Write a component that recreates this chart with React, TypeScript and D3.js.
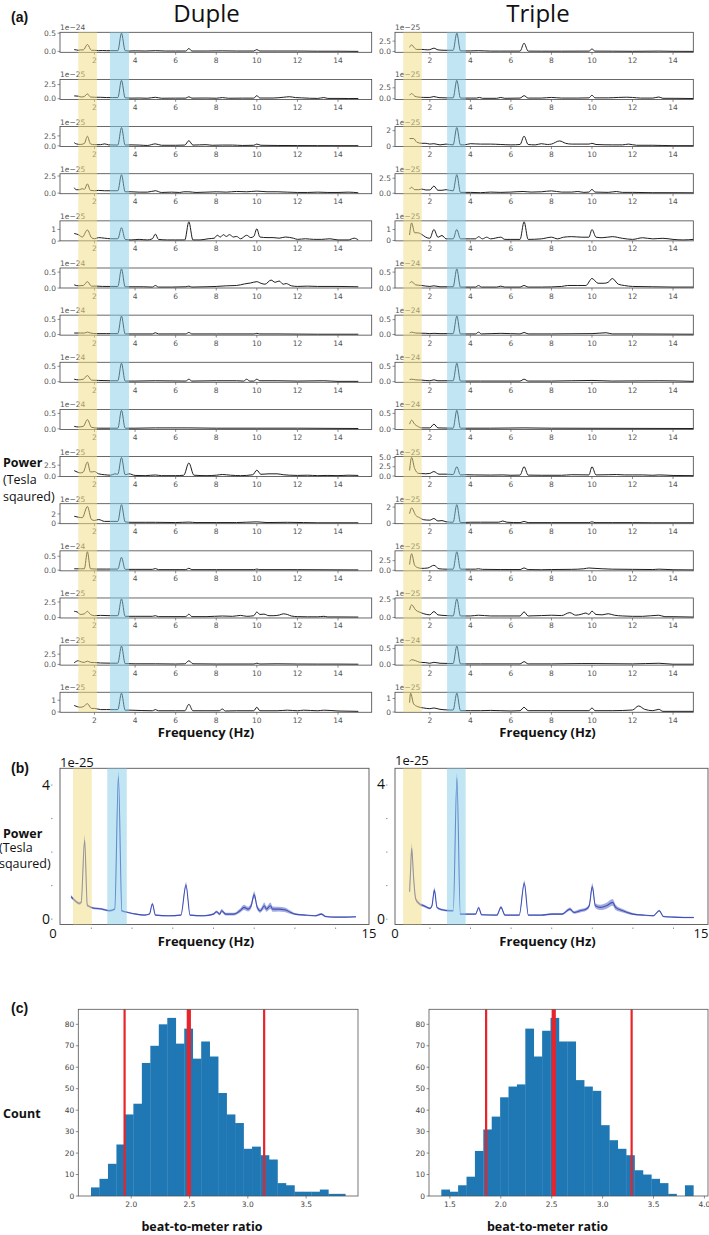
import React from "react";
import * as d3 from "d3";

// ---------- (a) individual spectra : [freq, value, freq, value, ...] in units of 10^exp ----------
const freqTicksA = [2, 4, 6, 8, 10, 12, 14];

const dupleExp = [-24, -25, -25, -25, -25, -24, -24, -24, -24, -25, -25, -24, -25, -25, -25];
const tripleExp = [-25, -25, -25, -25, -25, -24, -24, -24, -24, -25, -25, -25, -25, -24, -25];
const dupleYTicks = [[0, 0.5], [0, 2.5], [0, 2.5], [0, 2.5], [0, 1], [0, 0.5], [0, 0.5], [0, 0.5], [0, 0.5], [0, 2.5], [0, 2], [0, 0.5], [0, 2.5], [0, 2.5], [0, 1]];
const tripleYTicks = [[0, 2.5], [0, 2.5], [0, 2], [0, 2.5], [0, 1], [0, 0.5], [0, 0.5], [0, 0.5], [0, 0.5], [0, 2.5, 5], [0, 2], [0, 2.5], [0, 2.5], [0, 0.5], [0, 1]];

const d01 = [1.0,0.05, 1.1,0.04, 1.2,0.03, 1.3,0.04, 1.45,0.04, 1.65,0.19, 1.85,0.03, 2.0,0.03, 2.2,0.02, 2.4,0.025, 2.6,0.02, 2.8,0.02, 3.15,0.02, 3.33,0.5, 3.51,0.02, 3.7,0.01, 4.0,0.015, 4.5,0.01, 5.0,0.02, 5.5,0.01, 6.0,0.01, 6.5,0.01, 6.65,0.08, 6.8,0.01, 7.5,0.01, 8.3,0.015, 9.0,0.01, 9.85,0.01, 10.0,0.05, 10.15,0.01, 11,0.01, 12,0.01, 13,0.005, 14,0.005, 15,0.0];
const d02 = [1.0,0.5, 1.2,0.45, 1.35,0.3, 1.5,0.4, 1.65,0.85, 1.8,0.3, 2.0,0.25, 2.3,0.25, 2.6,0.2, 2.9,0.2, 3.15,0.2, 3.33,3.25, 3.51,0.15, 3.8,0.1, 4.2,0.12, 4.6,0.08, 5.0,0.25, 5.3,0.08, 6.0,0.1, 6.5,0.1, 6.65,0.35, 6.8,0.1, 7.5,0.12, 8.0,0.08, 8.3,0.2, 8.6,0.08, 9.3,0.1, 9.85,0.1, 10.0,0.55, 10.15,0.12, 10.8,0.12, 11.3,0.25, 11.6,0.35, 11.9,0.2, 12.2,0.15, 12.6,0.08, 13.0,0.05, 13.3,0.2, 13.5,0.05, 14.0,0.05, 14.5,0.03, 15,0.03];
const d03 = [1.0,0.8, 1.1,0.5, 1.3,0.35, 1.5,0.6, 1.65,2.4, 1.8,0.5, 2.0,0.3, 2.3,0.3, 2.5,0.5, 2.7,0.25, 3.15,0.2, 3.33,4.6, 3.51,0.2, 3.8,0.25, 4.2,0.2, 4.6,0.1, 5.0,0.5, 5.3,0.15, 6.0,0.15, 6.45,0.2, 6.65,1.3, 6.85,0.2, 7.5,0.3, 7.8,0.15, 8.3,0.2, 8.8,0.2, 9.3,0.1, 9.85,0.15, 10.0,0.45, 10.2,0.15, 11,0.1, 12,0.08, 13,0.06, 14,0.05, 15,0.05];
const d04 = [1.0,0.8, 1.1,0.5, 1.25,0.5, 1.4,0.65, 1.5,0.55, 1.65,1.35, 1.8,0.4, 2.0,0.35, 2.2,0.4, 2.5,0.35, 2.8,0.35, 3.15,0.35, 3.33,2.7, 3.51,0.2, 3.8,0.2, 4.2,0.15, 4.6,0.15, 5.0,0.35, 5.3,0.1, 5.8,0.15, 6.2,0.1, 6.4,0.2, 6.65,0.2, 7.0,0.1, 7.5,0.15, 8.0,0.2, 8.5,0.15, 9.0,0.25, 9.5,0.2, 10,0.3, 10.5,0.2, 11,0.2, 11.5,0.15, 12,0.1, 12.5,0.1, 13,0.15, 13.5,0.1, 14,0.1, 14.5,0.15, 15,0.05];
const d05 = [1.0,0.65, 1.2,0.55, 1.4,0.35, 1.65,0.95, 1.85,0.3, 2.0,0.2, 2.2,0.3, 2.5,0.25, 2.8,0.2, 3.15,0.2, 3.33,1.15, 3.51,0.15, 3.8,0.1, 4.2,0.15, 4.6,0.1, 4.85,0.2, 5.0,0.6, 5.15,0.15, 5.6,0.1, 6.0,0.1, 6.45,0.1, 6.65,1.65, 6.85,0.1, 7.2,0.1, 7.6,0.2, 7.9,0.25, 8.05,0.5, 8.2,0.35, 8.35,0.55, 8.5,0.4, 8.65,0.55, 8.85,0.35, 9.0,0.4, 9.2,0.2, 9.5,0.5, 9.7,0.3, 9.85,0.4, 10.0,1.05, 10.15,0.35, 10.5,0.3, 10.8,0.3, 11.1,0.25, 11.4,0.35, 11.8,0.25, 12.0,0.15, 12.4,0.2, 12.8,0.15, 13.2,0.15, 13.6,0.2, 14.0,0.1, 14.5,0.1, 14.8,0.25, 15,0.1];
const d06 = [1.0,0.1, 1.2,0.07, 1.45,0.08, 1.65,0.2, 1.85,0.06, 2.1,0.06, 2.4,0.05, 2.8,0.05, 3.15,0.05, 3.33,0.6, 3.51,0.04, 3.8,0.04, 4.4,0.04, 4.85,0.03, 5.0,0.08, 5.15,0.03, 5.8,0.03, 6.5,0.04, 6.65,0.06, 6.8,0.03, 7.5,0.04, 8.0,0.05, 8.5,0.07, 9.0,0.08, 9.4,0.13, 9.7,0.16, 10.0,0.2, 10.2,0.15, 10.4,0.12, 10.7,0.25, 10.9,0.18, 11.1,0.22, 11.3,0.12, 11.45,0.14, 11.7,0.07, 12.0,0.05, 12.5,0.06, 13,0.05, 14,0.05, 15,0.04];
const d07 = [1.0,0.05, 1.3,0.05, 1.5,0.05, 1.65,0.08, 1.8,0.05, 2.1,0.03, 2.6,0.03, 3.15,0.03, 3.33,0.61, 3.51,0.02, 4.0,0.02, 4.85,0.02, 5.0,0.06, 5.15,0.02, 6.5,0.02, 6.65,0.07, 6.8,0.02, 8,0.02, 9.85,0.02, 10.0,0.04, 10.15,0.02, 11,0.02, 13,0.01, 15,0.01];
const d08 = [1.0,0.08, 1.2,0.06, 1.45,0.08, 1.65,0.2, 1.85,0.05, 2.2,0.04, 2.8,0.03, 3.15,0.03, 3.33,0.6, 3.51,0.02, 4.0,0.02, 5.0,0.03, 6.5,0.02, 6.65,0.08, 6.8,0.02, 8.0,0.03, 9.0,0.03, 9.35,0.02, 9.5,0.08, 9.65,0.02, 9.85,0.02, 10.0,0.08, 10.15,0.03, 11,0.03, 12,0.02, 13.3,0.03, 14,0.01, 15,0.01];
const d09 = [1.0,0.08, 1.2,0.06, 1.45,0.08, 1.65,0.3, 1.85,0.05, 2.2,0.02, 2.8,0.02, 3.15,0.02, 3.33,0.6, 3.51,0.02, 4.0,0.02, 5.0,0.03, 6.65,0.03, 8,0.02, 10,0.02, 12,0.02, 15,0.01];
const d10 = [1.0,1.3, 1.15,1.0, 1.3,0.8, 1.45,1.0, 1.65,3.2, 1.8,1.0, 2.0,1.1, 2.2,0.6, 2.5,0.4, 2.8,0.3, 3.0,0.6, 3.15,0.5, 3.33,4.2, 3.51,0.4, 3.7,0.6, 4.0,0.25, 4.5,0.2, 5.0,0.35, 5.3,0.2, 6.0,0.2, 6.4,0.3, 6.65,3.0, 6.9,0.3, 7.5,0.2, 8.0,0.3, 8.3,0.45, 8.7,0.3, 9.2,0.2, 9.8,0.4, 10.0,1.4, 10.2,0.5, 10.6,0.6, 11.0,0.6, 11.3,0.4, 11.6,0.3, 12.0,0.25, 12.5,0.3, 13,0.2, 13.5,0.25, 14,0.2, 14.5,0.3, 15,0.25];
const d11 = [1.0,1.5, 1.2,1.3, 1.4,1.2, 1.65,3.6, 1.85,0.8, 2.0,0.6, 2.2,0.8, 2.5,0.4, 2.8,0.4, 3.15,0.4, 3.33,4.0, 3.51,0.3, 3.8,0.2, 4.5,0.2, 5.0,0.2, 6.0,0.15, 6.65,0.25, 7.0,0.15, 8.0,0.15, 9.0,0.15, 10,0.3, 10.5,0.15, 11.5,0.2, 12.3,0.15, 13,0.1, 14,0.1, 15,0.1];
const d12 = [1.0,0.05, 1.3,0.05, 1.5,0.05, 1.65,0.66, 1.8,0.05, 2.1,0.04, 2.6,0.04, 3.15,0.04, 3.33,0.46, 3.51,0.03, 4.0,0.03, 4.85,0.03, 5.0,0.06, 5.15,0.02, 6.5,0.02, 6.65,0.07, 6.8,0.02, 8,0.02, 9.85,0.02, 10.0,0.04, 10.15,0.02, 12,0.02, 15,0.01];
const d13 = [1.0,1.0, 1.15,0.9, 1.3,0.5, 1.5,0.6, 1.65,1.0, 1.8,0.5, 2.0,0.3, 2.3,0.35, 2.8,0.3, 3.15,0.3, 3.33,3.0, 3.51,0.2, 4.0,0.2, 4.85,0.2, 5.0,0.3, 5.15,0.15, 6.5,0.15, 6.65,0.55, 6.8,0.15, 7.5,0.15, 8.3,0.25, 8.8,0.2, 9.2,0.35, 9.5,0.2, 9.85,0.3, 10.0,0.9, 10.15,0.5, 10.35,0.55, 10.6,0.3, 10.8,0.3, 11.1,0.4, 11.3,0.6, 11.5,0.5, 11.7,0.25, 12.0,0.15, 12.5,0.12, 13,0.12, 13.3,0.2, 13.5,0.1, 14,0.1, 15,0.08];
const d14 = [1.0,0.4, 1.2,0.9, 1.35,0.6, 1.5,0.5, 1.65,0.8, 1.8,0.5, 2.0,0.45, 2.3,0.35, 2.8,0.3, 3.15,0.3, 3.33,4.5, 3.51,0.2, 4.0,0.15, 5.0,0.15, 6.0,0.1, 6.45,0.15, 6.65,0.9, 6.85,0.15, 8,0.1, 9.85,0.1, 10.0,0.3, 10.15,0.1, 11,0.15, 12,0.1, 13,0.08, 14,0.08, 15,0.05];
const d15 = [1.0,0.55, 1.15,0.45, 1.3,0.4, 1.45,0.45, 1.65,0.7, 1.85,0.3, 2.0,0.3, 2.3,0.2, 2.6,0.2, 3.0,0.2, 3.15,0.2, 3.33,1.6, 3.51,0.15, 3.8,0.15, 4.3,0.12, 4.85,0.1, 5.0,0.2, 5.15,0.1, 6.0,0.1, 6.45,0.1, 6.65,0.65, 6.85,0.1, 7.5,0.1, 8.15,0.1, 8.3,0.25, 8.45,0.08, 9.0,0.1, 9.85,0.1, 10.0,0.4, 10.15,0.1, 11,0.1, 11.5,0.15, 12,0.1, 12.3,0.15, 13,0.1, 13.3,0.15, 14,0.08, 15,0.05];

const t01 = [1.0,1.0, 1.1,1.6, 1.25,0.8, 1.35,0.5, 1.6,0.5, 1.9,0.4, 2.0,0.45, 2.2,0.8, 2.4,0.4, 2.7,0.3, 3.15,0.3, 3.33,4.4, 3.51,0.15, 4.0,0.15, 4.4,0.2, 5.0,0.1, 5.5,0.1, 6.0,0.1, 6.45,0.1, 6.65,2.0, 6.85,0.1, 7.5,0.08, 8.5,0.08, 9.85,0.1, 10.0,0.6, 10.15,0.1, 11,0.08, 12,0.05, 13.3,0.1, 14,0.05, 15,0.03];
const t02 = [1.0,0.8, 1.1,1.2, 1.25,0.6, 1.4,0.4, 1.7,0.3, 2.0,0.3, 2.2,0.5, 2.45,0.25, 2.8,0.2, 3.15,0.2, 3.33,4.2, 3.51,0.15, 4.0,0.15, 4.3,0.15, 4.45,0.3, 4.6,0.1, 5.3,0.1, 5.5,0.3, 5.7,0.1, 6.45,0.15, 6.65,0.7, 6.85,0.15, 7.5,0.15, 8.0,0.3, 8.5,0.15, 9.3,0.15, 9.85,0.2, 10.0,0.8, 10.15,0.2, 10.8,0.2, 11.3,0.3, 11.7,0.35, 12.0,0.3, 12.4,0.15, 13.0,0.15, 13.3,0.4, 13.5,0.1, 14.0,0.1, 15,0.05];
const t03 = [1.0,1.0, 1.2,1.0, 1.35,0.55, 1.6,0.4, 1.8,0.4, 2.0,0.3, 2.2,0.35, 2.5,0.2, 2.8,0.3, 3.15,0.2, 3.33,2.4, 3.51,0.2, 3.7,0.2, 4.0,0.35, 4.5,0.3, 5.0,0.3, 5.5,0.25, 6.0,0.2, 6.45,0.25, 6.65,1.3, 6.85,0.25, 7.2,0.2, 7.5,0.35, 7.8,0.25, 8.0,0.3, 8.4,0.7, 8.7,0.4, 9.0,0.3, 9.5,0.3, 9.85,0.3, 10.0,0.4, 10.2,0.25, 11,0.2, 11.5,0.2, 11.8,0.3, 12.2,0.15, 13,0.15, 14,0.1, 15,0.1];
const t04 = [1.0,0.7, 1.1,1.0, 1.25,0.6, 1.45,0.6, 1.6,0.7, 1.8,0.55, 2.0,0.55, 2.2,1.2, 2.4,0.5, 2.6,0.5, 2.8,0.6, 3.15,0.4, 3.33,3.1, 3.51,0.15, 4.0,0.15, 4.5,0.1, 5.0,0.2, 5.5,0.15, 6.0,0.2, 6.6,0.3, 7.0,0.2, 7.5,0.25, 8.0,0.4, 8.5,0.2, 9.0,0.2, 9.3,0.3, 9.6,0.15, 9.85,0.2, 10.0,0.65, 10.15,0.2, 10.8,0.15, 11.2,0.3, 11.5,0.15, 12.0,0.15, 13,0.1, 14,0.1, 15,0.08];
const t05 = [1.0,0.5, 1.1,1.6, 1.25,0.7, 1.4,0.7, 1.6,0.55, 1.8,0.3, 2.0,0.2, 2.2,1.0, 2.4,0.3, 2.6,0.45, 2.8,0.15, 3.15,0.15, 3.33,1.0, 3.51,0.15, 4.0,0.15, 4.25,0.15, 4.4,0.35, 4.6,0.15, 4.8,0.3, 5.0,0.15, 5.5,0.3, 5.7,0.1, 6.0,0.1, 6.45,0.1, 6.65,1.7, 6.85,0.1, 7.5,0.15, 8.0,0.3, 8.3,0.15, 8.6,0.3, 9.0,0.35, 9.5,0.3, 9.85,0.3, 10.0,1.0, 10.2,0.3, 10.5,0.25, 11.0,0.35, 11.5,0.2, 12.0,0.1, 12.5,0.25, 13.0,0.15, 13.5,0.2, 14.0,0.1, 14.5,0.05, 15,0.1];
const t06 = [1.0,0.15, 1.1,0.2, 1.3,0.1, 1.6,0.08, 2.0,0.05, 2.2,0.07, 2.5,0.04, 3.15,0.04, 3.33,0.6, 3.51,0.03, 4.0,0.03, 4.25,0.03, 4.4,0.08, 4.55,0.03, 5.3,0.03, 5.5,0.06, 5.7,0.03, 6.45,0.03, 6.65,0.08, 6.85,0.03, 7.5,0.03, 8.5,0.05, 8.8,0.08, 9.3,0.08, 9.7,0.08, 10.0,0.3, 10.3,0.15, 10.6,0.15, 10.8,0.18, 11.0,0.3, 11.3,0.12, 11.6,0.08, 12.0,0.05, 13,0.04, 14,0.03, 15,0.03];
const t07 = [1.0,0.05, 1.1,0.08, 1.3,0.05, 1.8,0.04, 2.0,0.03, 2.2,0.04, 2.5,0.03, 3.15,0.03, 3.33,0.62, 3.51,0.02, 4.25,0.02, 4.4,0.08, 4.55,0.02, 5.5,0.04, 6.45,0.02, 6.65,0.07, 6.85,0.02, 8,0.02, 10,0.03, 10.7,0.06, 11,0.02, 12,0.02, 15,0.01];
const t08 = [1.0,0.07, 1.1,0.08, 1.3,0.06, 1.6,0.05, 2.0,0.03, 2.2,0.06, 2.4,0.03, 3.15,0.03, 3.33,0.6, 3.51,0.02, 4.5,0.02, 6.45,0.02, 6.65,0.08, 6.85,0.02, 8,0.02, 10,0.04, 11,0.02, 13.3,0.03, 15,0.01];
const t09 = [1.0,0.15, 1.1,0.28, 1.25,0.15, 1.4,0.08, 1.6,0.03, 2.0,0.03, 2.2,0.15, 2.4,0.03, 3.15,0.02, 3.33,0.6, 3.51,0.02, 5,0.02, 6.65,0.03, 8,0.02, 15,0.01];
const t10 = [1.0,1.5, 1.1,5.0, 1.25,2.0, 1.45,0.7, 1.8,0.6, 2.0,0.7, 2.2,1.2, 2.45,0.5, 2.8,0.5, 3.15,0.4, 3.33,2.5, 3.51,0.3, 3.8,0.35, 4.2,0.3, 5.0,0.25, 5.6,0.3, 6.0,0.2, 6.45,0.25, 6.65,2.5, 6.85,0.25, 7.5,0.2, 8.5,0.2, 9.0,0.35, 9.85,0.3, 10.0,2.5, 10.2,0.3, 10.8,0.35, 11.2,0.4, 11.6,0.3, 12.0,0.3, 12.5,0.3, 13,0.2, 13.3,0.3, 14,0.15, 15,0.1];
const t11 = [1.0,1.2, 1.1,1.9, 1.3,1.0, 1.5,0.7, 1.7,0.45, 2.0,0.4, 2.2,0.6, 2.4,0.3, 2.6,0.35, 2.8,0.2, 3.15,0.15, 3.33,2.3, 3.51,0.1, 4.0,0.15, 4.5,0.15, 5.4,0.15, 5.6,0.3, 5.8,0.15, 6.45,0.1, 6.65,0.25, 6.85,0.1, 8,0.1, 9.85,0.1, 10.0,0.2, 10.15,0.1, 11,0.1, 12,0.1, 13,0.08, 14,0.08, 15,0.08];
const t12 = [1.0,1.5, 1.1,4.3, 1.25,1.3, 1.4,0.7, 1.6,0.5, 1.9,0.6, 2.2,1.3, 2.45,0.4, 2.8,0.3, 3.15,0.3, 3.33,4.8, 3.51,0.3, 4.0,0.3, 4.25,0.3, 4.4,0.4, 4.6,0.25, 5.5,0.2, 6.45,0.2, 6.65,0.6, 6.85,0.2, 7.5,0.15, 8.0,0.2, 9.0,0.25, 9.6,0.4, 9.85,0.6, 10.0,0.55, 10.5,0.4, 11,0.3, 12,0.25, 13,0.2, 13.3,0.3, 14,0.15, 15,0.1];
const t13 = [1.0,1.0, 1.1,1.7, 1.3,1.0, 1.5,0.7, 1.7,0.5, 2.0,0.35, 2.2,0.8, 2.4,0.35, 2.8,0.25, 3.15,0.2, 3.33,2.5, 3.51,0.2, 4.0,0.2, 4.4,0.3, 5.0,0.2, 5.5,0.2, 6.45,0.2, 6.65,0.75, 6.85,0.2, 7.5,0.25, 8.0,0.3, 8.5,0.25, 8.9,0.65, 9.2,0.3, 9.5,0.45, 9.7,0.6, 9.85,0.4, 10.0,0.85, 10.2,0.4, 10.5,0.35, 10.8,0.5, 11.1,0.3, 11.5,0.2, 12,0.15, 12.5,0.15, 13.3,0.3, 13.6,0.1, 14,0.1, 15,0.05];
const t14 = [1.0,0.1, 1.1,0.15, 1.3,0.12, 1.5,0.07, 1.8,0.06, 2.0,0.04, 2.2,0.07, 2.5,0.04, 3.15,0.03, 3.33,0.58, 3.51,0.02, 4.5,0.02, 6.45,0.02, 6.65,0.09, 6.85,0.02, 8,0.02, 9.5,0.03, 10,0.03, 12,0.02, 13.3,0.04, 14,0.01, 15,0.01];
const t15 = [1.0,0.7, 1.05,1.4, 1.2,0.6, 1.4,0.4, 1.7,0.3, 2.0,0.25, 2.2,0.3, 2.5,0.2, 3.0,0.15, 3.15,0.15, 3.33,1.4, 3.51,0.1, 4.0,0.1, 4.5,0.1, 5.0,0.12, 6.0,0.08, 6.45,0.1, 6.65,0.35, 6.85,0.1, 8,0.1, 9.85,0.1, 10.0,0.3, 10.15,0.1, 11,0.1, 12.0,0.15, 12.3,0.45, 12.6,0.2, 13.0,0.1, 13.3,0.2, 13.5,0.05, 14,0.05, 15,0.05];

const dupleSpectra = [d01, d02, d03, d04, d05, d06, d07, d08, d09, d10, d11, d12, d13, d14, d15];
const tripleSpectra = [t01, t02, t03, t04, t05, t06, t07, t08, t09, t10, t11, t12, t13, t14, t15];

// bands (Hz)
const dupleBands = [[1.2, 2.12], [2.76, 3.7]];
const tripleBands = [[0.69, 1.6], [2.85, 3.77]];
const dupleBandsB = [[1.1, 2.02], [2.78, 3.74]];
const tripleBandsB = [[0.68, 1.59], [2.84, 3.76]];

// ---------- (b) grand-average spectra : [freq, mean, sem, ...] in 1e-25 ----------
const dupleMean = [1.0,0.67,0.05, 1.2,0.55,0.04, 1.4,0.47,0.04, 1.5,0.5,0.05, 1.67,2.36,0.15, 1.8,0.42,0.04, 1.9,0.38,0.03, 2.0,0.35,0.03, 2.5,0.3,0.03, 2.9,0.25,0.03, 3.15,0.3,0.03, 3.33,4.25,0.15, 3.5,0.25,0.03, 3.8,0.2,0.02, 4.2,0.15,0.02, 4.6,0.12,0.02, 4.85,0.15,0.02, 5.0,0.45,0.05, 5.15,0.12,0.02, 5.8,0.1,0.02, 6.4,0.12,0.02, 6.65,1.02,0.08, 6.85,0.12,0.02, 7.5,0.1,0.02, 8.0,0.15,0.03, 8.15,0.22,0.04, 8.3,0.15,0.04, 8.4,0.25,0.05, 8.6,0.15,0.04, 9.0,0.15,0.04, 9.3,0.25,0.06, 9.5,0.35,0.08, 9.7,0.3,0.07, 9.85,0.4,0.08, 10.0,0.73,0.1, 10.15,0.35,0.07, 10.3,0.25,0.06, 10.5,0.4,0.1, 10.6,0.3,0.08, 10.8,0.4,0.1, 10.9,0.3,0.08, 11.2,0.3,0.07, 11.5,0.28,0.07, 11.8,0.2,0.05, 12.0,0.15,0.03, 12.5,0.12,0.02, 13.0,0.1,0.02, 13.3,0.15,0.03, 13.5,0.08,0.02, 14.0,0.06,0.02, 14.5,0.06,0.02, 15.0,0.07,0.02];
const tripleMean = [1.0,0.82,0.1, 1.05,1.5,0.12, 1.1,2.11,0.15, 1.2,1.2,0.08, 1.3,0.6,0.05, 1.5,0.45,0.04, 1.7,0.4,0.04, 2.0,0.32,0.03, 2.1,0.4,0.04, 2.22,0.87,0.08, 2.35,0.35,0.03, 2.6,0.28,0.03, 3.0,0.25,0.03, 3.15,0.25,0.03, 3.33,4.2,0.15, 3.5,0.15,0.02, 4.0,0.15,0.02, 4.25,0.15,0.02, 4.4,0.34,0.04, 4.55,0.13,0.02, 5.3,0.12,0.02, 5.5,0.35,0.04, 5.7,0.12,0.02, 6.4,0.12,0.02, 6.65,1.07,0.08, 6.85,0.12,0.02, 7.5,0.12,0.02, 8.0,0.15,0.03, 8.5,0.15,0.03, 8.9,0.3,0.05, 9.1,0.2,0.04, 9.4,0.25,0.05, 9.7,0.3,0.05, 9.85,0.4,0.06, 10.0,0.97,0.1, 10.15,0.4,0.07, 10.4,0.35,0.08, 10.7,0.4,0.09, 11.0,0.5,0.1, 11.15,0.35,0.08, 11.5,0.25,0.05, 12.0,0.15,0.03, 12.5,0.12,0.02, 13.0,0.1,0.02, 13.3,0.25,0.03, 13.5,0.08,0.02, 14.0,0.06,0.02, 14.5,0.05,0.02, 15.0,0.05,0.02];
const bYTicks = [0, 1, 2, 3, 4];
const bXTicks = [2, 4, 6, 8, 10, 12, 14];

// ---------- (c) histograms ----------
const dupleCounts = [4, 8, 15, 24, 38, 43, 62, 70, 80, 83, 71, 78, 64, 72, 65, 48, 38, 34, 22, 23, 19, 17, 6, 5, 2, 2, 2, 3, 1, 1];
const dupleBinStart = 1.655;
const dupleBinWidth = 0.0727;
const tripleCounts = [3, 2, 5, 9, 21, 31, 37, 46, 51, 52, 78, 65, 77, 83, 72, 72, 54, 51, 49, 33, 26, 22, 19, 12, 10, 8, 6, 1, 0, 5];
const tripleBinStart = 1.416;
const tripleBinWidth = 0.0825;
const dupleRatioLines = [1.943, 2.494, 3.14];
const tripleRatioLines = [1.856, 2.52, 3.285];
const histYTicks = [0, 10, 20, 30, 40, 50, 60, 70, 80];
const dupleHistXTicks = [2.0, 2.5, 3.0, 3.5];
const tripleHistXTicks = [1.5, 2.0, 2.5, 3.0, 3.5, 4.0];

// ---------- layout ----------
const W = 709, H = 1235;
const A_TOP0 = 32.3, A_STEP = 47.14, A_H = 20;
const YELLOW = "#f0dc80", BLUE = "#86cce8";
const TICK_FONT = "'DejaVu Sans', sans-serif";
const LABEL_FONT = "'Open Sans', sans-serif";

type P = [number, number];
const pairs = (a: number[]): P[] => {
  const out: P[] = [];
  for (let i = 0; i < a.length; i += 2) out.push([a[i], a[i + 1]]);
  return out;
};
const triples = (a: number[]) => {
  const out: { f: number; v: number; s: number }[] = [];
  for (let i = 0; i < a.length; i += 3) out.push({ f: a[i], v: a[i + 1], s: a[i + 2] });
  return out;
};

function SmallPanel({ pts, exp, ticks, x0, x1, xDom, top }: any) {
  const h = A_H;
  const x = d3.scaleLinear().domain(xDom).range([x0, x1]);
  const data = pairs(pts);
  const [mn, mx] = d3.extent(data, (d) => d[1]) as [number, number];
  const r = mx - mn;
  const y = d3.scaleLinear().domain([mn - 0.05 * r, mx + 0.05 * r]).range([top + h, top]);
  const line = d3.line<P>().x((d) => x(d[0])).y((d) => y(d[1])).curve(d3.curveMonotoneX);
  const dec = ticks.some((t: number) => t % 1 !== 0);
  return (
    <g>
      <path d={line(data) || ""} fill="none" stroke="#1e1e1e" strokeWidth={1} />
      <rect x={x0} y={top} width={x1 - x0} height={h} fill="none" stroke="#444" strokeWidth={0.8} />
      {freqTicksA.map((t) => (
        <g key={t}>
          <line x1={x(t)} x2={x(t)} y1={top + h} y2={top + h + 2.5} stroke="#444" strokeWidth={0.6} />
          <text x={x(t)} y={top + h + 10.5} textAnchor="middle" fontSize={7.5} fill="#555" fontFamily={TICK_FONT}>{t}</text>
        </g>
      ))}
      {ticks.map((t: number) => (
        <g key={t}>
          <line x1={x0 - 2.5} x2={x0} y1={y(t)} y2={y(t)} stroke="#444" strokeWidth={0.6} />
          <text x={x0 - 4} y={y(t) + 2.7} textAnchor="end" fontSize={7.5} fill="#555" fontFamily={TICK_FONT}>{dec ? t.toFixed(1) : String(t)}</text>
        </g>
      ))}
      <text x={x0} y={top - 2} fontSize={7.5} fill="#555" fontFamily={TICK_FONT}>{`1e\u2212${Math.abs(exp)}`}</text>
    </g>
  );
}

function ColumnA({ spectra, exps, yticks, x0, x1, xDom, bands }: any) {
  const x = d3.scaleLinear().domain(xDom).range([x0, x1]);
  const yTop = A_TOP0;
  const yBot = A_TOP0 + 14 * A_STEP + A_H;
  return (
    <g>
      {spectra.map((s: number[], i: number) => (
        <SmallPanel key={i} pts={s} exp={exps[i]} ticks={yticks[i]} x0={x0} x1={x1} xDom={xDom} top={A_TOP0 + i * A_STEP} />
      ))}
      {bands.map((b: number[], i: number) => (
        <rect key={i} x={x(b[0])} y={yTop} width={x(b[1]) - x(b[0])} height={yBot - yTop} fill={i === 0 ? YELLOW : BLUE} opacity={0.5} />
      ))}
    </g>
  );
}

function MeanPanel({ raw, x0, x1, xDom, bands, top, bottom }: any) {
  const x = d3.scaleLinear().domain(xDom).range([x0, x1]);
  const y = d3.scaleLinear().domain([-0.16, 4.5]).range([bottom, top]);
  const data = triples(raw);
  const area = d3.area<any>().x((d) => x(d.f)).y0((d) => y(d.v - d.s)).y1((d) => y(d.v + d.s)).curve(d3.curveMonotoneX);
  const line = d3.line<any>().x((d) => x(d.f)).y((d) => y(d.v)).curve(d3.curveMonotoneX);
  return (
    <g>
      <path d={area(data) || ""} fill="#6573c9" opacity={0.6} />
      <path d={line(data) || ""} fill="none" stroke="#4050b8" strokeWidth={1.1} />
      <rect x={x0} y={top} width={x1 - x0} height={bottom - top} fill="none" stroke="#555" strokeWidth={0.9} />
      {bYTicks.map((t) => (
        <line key={t} x1={x0 - 9} x2={x0 - 7.5} y1={y(t)} y2={y(t)} stroke="#777" strokeWidth={0.8} />
      ))}
      {bXTicks.map((t) => (
        <line key={t} x1={x(t)} x2={x(t)} y1={bottom + 3} y2={bottom + 4.5} stroke="#777" strokeWidth={0.8} />
      ))}
      {bands.map((b: number[], i: number) => (
        <rect key={i} x={x(b[0])} y={top} width={x(b[1]) - x(b[0])} height={bottom - top} fill={i === 0 ? YELLOW : BLUE} opacity={0.5} />
      ))}
    </g>
  );
}

function Hist({ counts, start, width, lines, x0, x1, xDom, xticks, top, bottom }: any) {
  const x = d3.scaleLinear().domain(xDom).range([x0, x1]);
  const y = d3.scaleLinear().domain([0, 87]).range([bottom, top]);
  return (
    <g>
      {counts.map((c: number, i: number) => (
        <rect key={i} x={x(start + i * width)} y={y(c)} width={x(start + (i + 1) * width) - x(start + i * width) + 0.3} height={bottom - y(c)} fill="#1f77b4" />
      ))}
      {lines.map((v: number, i: number) => (
        <line key={i} x1={x(v)} x2={x(v)} y1={top} y2={bottom} stroke="#e8232a" strokeWidth={i === 1 ? 4.2 : 2.2} />
      ))}
      <rect x={x0} y={top} width={x1 - x0} height={bottom - top} fill="none" stroke="#555" strokeWidth={0.8} />
      {histYTicks.map((t) => (
        <g key={t}>
          <line x1={x0 - 2.5} x2={x0} y1={y(t)} y2={y(t)} stroke="#444" strokeWidth={0.6} />
          <text x={x0 - 4} y={y(t) + 2.7} textAnchor="end" fontSize={7.5} fill="#444" fontFamily={TICK_FONT}>{t}</text>
        </g>
      ))}
      {xticks.map((t: number) => (
        <g key={t}>
          <line x1={x(t)} x2={x(t)} y1={bottom} y2={bottom + 2.5} stroke="#444" strokeWidth={0.6} />
          <text x={x(t)} y={bottom + 11} textAnchor="middle" fontSize={7.5} fill="#444" fontFamily={TICK_FONT}>{t.toFixed(1)}</text>
        </g>
      ))}
    </g>
  );
}

export default function App() {
  const bold = { fontFamily: LABEL_FONT, fontWeight: 700 as const, fill: "#111" };
  const reg = { fontFamily: LABEL_FONT, fill: "#111" };
  const panelLab = { fontFamily: "'Liberation Sans', Arial, sans-serif", fontWeight: 700 as const, fontSize: 14, fill: "#111" };
  return (
    <svg width={W} height={H} style={{ position: "absolute", left: 0, top: 0, background: "#fff" }} fontFamily={TICK_FONT}>
      <rect x={0} y={0} width={W} height={H} fill="#fff" />
      {/* (a) */}
      <text x={11} y={21.5} {...panelLab}>(a)</text>
      <text x={206.5} y={21.5} textAnchor="middle" fontSize={24} {...reg}>Duple</text>
      <text x={538} y={21.5} textAnchor="middle" fontSize={24} {...reg}>Triple</text>
      <ColumnA spectra={dupleSpectra} exps={dupleExp} yticks={dupleYTicks} x0={60} x1={371.7} xDom={[0.3, 15.66]} bands={dupleBands} />
      <ColumnA spectra={tripleSpectra} exps={tripleExp} yticks={tripleYTicks} x0={395} x1={693.3} xDom={[0.28, 15.0]} bands={tripleBands} />
      <text x={3} y={466.5} fontSize={12.5} {...bold}>Power</text>
      <text x={3} y={484} fontSize={12.5} {...reg}>(Tesla</text>
      <text x={3} y={500.5} fontSize={12.5} {...reg}>sqaured)</text>
      <text x={206} y={736.5} textAnchor="middle" fontSize={13} {...bold}>Frequency (Hz)</text>
      <text x={547.5} y={736.5} textAnchor="middle" fontSize={13} {...bold}>Frequency (Hz)</text>

      {/* (b) */}
      <text x={11} y={773} {...panelLab}>(b)</text>
      <MeanPanel raw={dupleMean} x0={60} x1={369} xDom={[0.46, 15.64]} bands={dupleBandsB} top={768.3} bottom={924.5} />
      <MeanPanel raw={tripleMean} x0={395} x1={708} xDom={[0.28, 15.7]} bands={tripleBandsB} top={768.3} bottom={924.5} />
      <text x={60} y={767} fontSize={13} {...reg}>1e-25</text>
      <text x={395} y={765} fontSize={13} {...reg}>1e-25</text>
      <text x={50} y={790} textAnchor="end" fontSize={14} {...reg}>4</text>
      <text x={50} y={924} textAnchor="end" fontSize={14} {...reg}>0</text>
      <text x={385} y={788.5} textAnchor="end" fontSize={14} {...reg}>4</text>
      <text x={385} y={923.5} textAnchor="end" fontSize={14} {...reg}>0</text>
      <text x={53} y={938} textAnchor="middle" fontSize={13} {...reg}>0</text>
      <text x={369} y={938} textAnchor="middle" fontSize={13} {...reg}>15</text>
      <text x={395} y={938} textAnchor="middle" fontSize={13} {...reg}>0</text>
      <text x={701} y={938} textAnchor="middle" fontSize={13} {...reg}>15</text>
      <text x={3} y={838} fontSize={12.5} {...bold}>Power</text>
      <text x={-1} y={852} fontSize={12.5} {...reg}>(Tesla</text>
      <text x={-1} y={868} fontSize={12.5} {...reg}>sqaured)</text>
      <text x={206} y={946} textAnchor="middle" fontSize={13} {...bold}>Frequency (Hz)</text>
      <text x={547.5} y={946} textAnchor="middle" fontSize={13} {...bold}>Frequency (Hz)</text>

      {/* (c) */}
      <text x={11} y={1013} {...panelLab}>(c)</text>
      <Hist counts={dupleCounts} start={dupleBinStart} width={dupleBinWidth} lines={dupleRatioLines} x0={78.3} x1={358} xDom={[1.546, 3.945]} xticks={dupleHistXTicks} top={1009.3} bottom={1196} />
      <Hist counts={tripleCounts} start={tripleBinStart} width={tripleBinWidth} lines={tripleRatioLines} x0={429} x1={708} xDom={[1.295, 4.035]} xticks={tripleHistXTicks} top={1009.3} bottom={1196} />
      <text x={3} y={1117.5} fontSize={12.5} {...bold}>Count</text>
      <text x={202} y={1231} textAnchor="middle" fontSize={12.5} {...bold}>beat-to-meter ratio</text>
      <text x={547.5} y={1231} textAnchor="middle" fontSize={12.5} {...bold}>beat-to-meter ratio</text>
    </svg>
  );
}
